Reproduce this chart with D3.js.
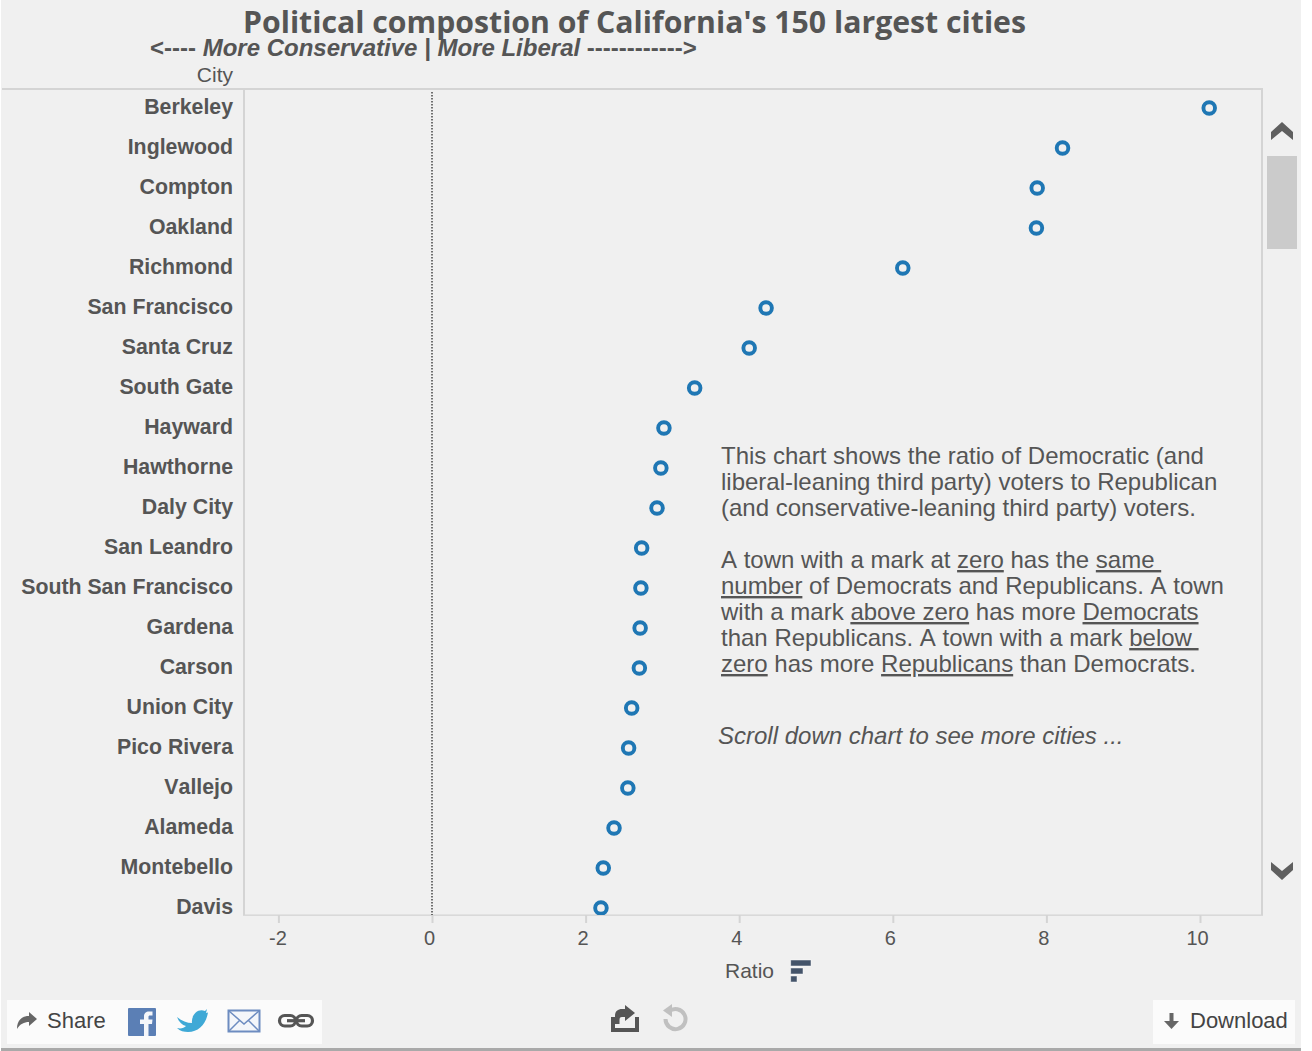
<!DOCTYPE html>
<html>
<head>
<meta charset="utf-8">
<script src="https://cdn.jsdelivr.net/npm/d3@7"></script>
<style>
  html, body { margin: 0; padding: 0; background: #fff; }
  svg { display: block; }
  text { font-family: "Liberation Sans", Arial, sans-serif; fill: #555; font-kerning: none; }
</style>
</head>
<body>
<div id="chart"></div>
<script>
const cities = ['Berkeley', 'Inglewood', 'Compton', 'Oakland', 'Richmond', 'San Francisco', 'Santa Cruz',
  'South Gate', 'Hayward', 'Hawthorne', 'Daly City', 'San Leandro', 'South San Francisco', 'Gardena',
  'Carson', 'Union City', 'Pico Rivera', 'Vallejo', 'Alameda', 'Montebello', 'Davis'];
const ratios = [10.12, 8.21, 7.88, 7.87, 6.13, 4.35, 4.13, 3.42, 3.02, 2.98, 2.93, 2.73, 2.72, 2.71,
  2.70, 2.60, 2.56, 2.55, 2.37, 2.23, 2.20];
const xTicks = [-2, 0, 2, 4, 6, 8, 10];

const titleText = "Political compostion of California's 150 largest cities";
const subtitleArrowLeft = '<---- ';
const subtitleItalic = 'More Conservative | More Liberal ';
const subtitleArrowRight = '------------>';

// each line is a list of [text, underlined] runs
const noteLines1 = [
  [['This chart shows the ratio of Democratic (and', false]],
  [['liberal-leaning third party) voters to Republican', false]],
  [['(and conservative-leaning third party) voters.', false]]
];
const noteLines2 = [
  [['A town with a mark at ', false], ['zero', true], [' has the ', false], ['same\u00a0', true]],
  [['number', true], [' of Democrats and Republicans. A town', false]],
  [['with a mark ', false], ['above zero', true], [' has more ', false], ['Democrats', true]],
  [['than Republicans. A town with a mark ', false], ['below\u00a0', true]],
  [['zero', true], [' has more ', false], ['Republicans', true], [' than Democrats.', false]]
];
const scrollNote = 'Scroll down chart to see more cities ...';

const width = 1312;
const height = 1051;
const panel = { top: 89, right: 1262, bottom: 915, left: 244 };

const svg = d3.select('#chart').append('svg')
  .attr('width', width)
  .attr('height', height)
  .attr('viewBox', `0 0 ${width} ${height}`);

// page background and the grey rule along the bottom
svg.append('rect').attr('x', 1).attr('width', 1300).attr('height', 1048).attr('fill', '#f0f0f0');
svg.append('rect').attr('x', 1).attr('y', 1048).attr('width', 1300).attr('height', 3).attr('fill', '#a9a9a9');

// Scales: 0 sits at 432px, 10 at 1200px. 21 rows at 40px, the last one runs under the panel edge
const xScale = d3.scaleLinear()
  .domain([(panel.left - 432) / 76.8, (panel.right - 432) / 76.8])
  .range([panel.left, panel.right]);

const yScale = d3.scaleBand()
  .domain(cities)
  .range([88, 88 + 40 * cities.length]);

svg.append('defs').append('clipPath').attr('id', 'panel-clip')
  .append('rect')
  .attr('x', panel.left)
  .attr('y', panel.top)
  .attr('width', panel.right - panel.left)
  .attr('height', panel.bottom - panel.top);

// Panel frame, the bottom edge is thinner than the others
svg.append('path')
  .attr('d', `M2,${panel.top}H${panel.right}V${panel.bottom}M${panel.left},${panel.top}V${panel.bottom}`)
  .attr('fill', 'none')
  .attr('stroke', '#d4d4d4')
  .attr('stroke-width', 2);
svg.append('rect').attr('x', panel.left - 1).attr('y', panel.bottom - 0.5)
  .attr('width', panel.right - panel.left + 2).attr('height', 1.3).attr('fill', '#d4d4d4');

// Zero reference line
svg.append('line')
  .attr('x1', xScale(0)).attr('x2', xScale(0))
  .attr('y1', panel.top + 3).attr('y2', panel.bottom)
  .attr('stroke', '#444')
  .attr('stroke-width', 1.5)
  .attr('stroke-dasharray', '1.5 1.5');

// X axis
const xAxis = svg.append('g')
  .attr('transform', `translate(0,${panel.bottom})`)
  .call(d3.axisBottom(xScale).tickValues(xTicks).tickSize(8).tickSizeOuter(0).tickPadding(8));
xAxis.select('.domain').remove();
xAxis.selectAll('.tick line').attr('stroke', '#d4d4d4').attr('stroke-width', 2);
xAxis.selectAll('.tick text')
  .attr('font-size', 20)
  .attr('dx', d => d < 0 ? -1 : -3)
  .style('font-family', '"Liberation Sans", Arial, sans-serif')
  .style('fill', '#555')
  .text(d => d);

// Y axis with the city names
const yAxis = svg.append('g')
  .attr('transform', 'translate(233,0)')
  .call(d3.axisLeft(yScale).tickSize(0).tickPadding(0));
yAxis.select('.domain').remove();
yAxis.selectAll('.tick text')
  .attr('font-size', 21.3)
  .attr('font-weight', 'bold')
  .attr('dy', '0.27em')
  .style('font-family', '"Liberation Sans", Arial, sans-serif')
  .style('fill', '#555');

// Points
svg.append('g')
  .attr('clip-path', 'url(#panel-clip)')
  .selectAll('circle')
  .data(cities)
  .join('circle')
  .attr('cx', (d, i) => xScale(ratios[i]))
  .attr('cy', d => yScale(d) + yScale.bandwidth() / 2)
  .attr('r', 5.8)
  .attr('fill', 'none')
  .attr('stroke', '#1f77b4')
  .attr('stroke-width', 3.9);

// Titles
svg.append('text')
  .attr('x', 634.5).attr('y', 33)
  .attr('text-anchor', 'middle')
  .attr('font-size', 31)
  .attr('font-weight', 'bold')
  .style('font-family', '"Open Sans", sans-serif')
  .attr('textLength', 783)
  .attr('lengthAdjust', 'spacingAndGlyphs')
  .text(titleText);

const subtitle = svg.append('text')
  .attr('x', 150).attr('y', 56)
  .attr('font-size', 24)
  .attr('font-weight', 'bold')
  .style('white-space', 'pre');
subtitle.append('tspan').text(subtitleArrowLeft);
subtitle.append('tspan').attr('font-style', 'italic').text(subtitleItalic);
subtitle.append('tspan').text(subtitleArrowRight);

svg.append('text')
  .attr('x', 233).attr('y', 82)
  .attr('text-anchor', 'end')
  .attr('font-size', 21)
  .text('City');

svg.append('text')
  .attr('x', 725).attr('y', 978)
  .attr('font-size', 21)
  .text('Ratio');

// Annotation block
function drawNote(lines, top) {
  const note = svg.append('text')
    .attr('font-size', 24)
    .style('white-space', 'pre');
  lines.forEach((runs, i) => {
    runs.forEach((run, j) => {
      const span = note.append('tspan')
        .attr('text-decoration', run[1] ? 'underline' : null)
        .text(run[0]);
      if (j === 0) span.attr('x', 721).attr('y', top + i * 26);
    });
  });
}
drawNote(noteLines1, 464);
drawNote(noteLines2, 568);

svg.append('text')
  .attr('x', 718).attr('y', 744)
  .attr('font-size', 24)
  .attr('font-style', 'italic')
  .text(scrollNote);

// Scroll bar
svg.append('rect').attr('x', 1267).attr('y', 156).attr('width', 30).attr('height', 93).attr('fill', '#cbcbcb');
svg.append('path').attr('d', 'M1271,132L1282,122L1293,132V140L1282,131L1271,140Z').attr('fill', '#5f5f5f');
svg.append('path').attr('d', 'M1271,862L1282,871L1293,862V870L1282,880L1271,870Z').attr('fill', '#5f5f5f');

// Toolbar boxes
svg.append('rect').attr('x', 7).attr('y', 1000).attr('width', 315).attr('height', 44).attr('fill', '#fbfbfb');
svg.append('rect').attr('x', 1153).attr('y', 1000).attr('width', 142).attr('height', 44).attr('fill', '#fbfbfb');

svg.append('text').attr('x', 47).attr('y', 1028).attr('font-size', 22).style('fill', '#444').text('Share');
svg.append('text').attr('x', 1190).attr('y', 1028).attr('font-size', 22).style('fill', '#444').text('Download');

// Share arrow
svg.append('path')
  .attr('d', 'M17,1029C17,1020 22,1016 29,1016V1012L37,1019L29,1026V1022C24,1022 20,1024 17,1029Z')
  .attr('fill', '#666');

// Facebook
svg.append('rect').attr('x', 128).attr('y', 1008).attr('width', 28).attr('height', 28).attr('rx', 1).attr('fill', '#5b7fb5');
svg.append('path')
  .attr('d', 'M144,1036V1024H140V1019.5H144V1016.5C144,1013 146,1011.5 149,1011.5H152.5V1015.5H150C148.8,1015.5 148.5,1016 148.5,1017V1019.5H152.5L152,1024H148.5V1036Z')
  .attr('fill', '#f4f6fa');

// Twitter
svg.append('path')
  .attr('d', 'M177,1017C182,1021 187,1023 192,1023C191,1016 197,1008 205,1011L207,1009L206,1013L208,1012.5C206,1024 199,1032 188,1032C184,1032 180,1031 177,1028C181,1029 184,1028 186,1026C182,1025 179,1022 177,1017Z')
  .attr('fill', '#3fa9d6');

// Mail
svg.append('rect').attr('x', 228.5).attr('y', 1010.5).attr('width', 31).attr('height', 21).attr('fill', '#f4f6fa').attr('stroke', '#6d8cc0').attr('stroke-width', 2);
svg.append('path').attr('d', 'M229,1011L244,1024L259,1011M229,1031L240,1020M259,1031L248,1020').attr('fill', 'none').attr('stroke', '#6d8cc0').attr('stroke-width', 1.5);

// Link
svg.append('g').attr('fill', 'none').attr('stroke', '#555').attr('stroke-width', 3.2)
  .call(g => {
    g.append('rect').attr('x', 279.5).attr('y', 1015.5).attr('width', 16).attr('height', 10.5).attr('rx', 5.2);
    g.append('rect').attr('x', 296.5).attr('y', 1015.5).attr('width', 16).attr('height', 10.5).attr('rx', 5.2);
    g.append('line').attr('x1', 287).attr('x2', 305).attr('y1', 1020.7).attr('y2', 1020.7);
  });

// Download arrow
svg.append('path').attr('d', 'M1169.5,1013H1173.5V1021H1179L1171.5,1029L1164,1021H1169.5Z').attr('fill', '#666');

// Sort icon beside Ratio
svg.append('g').attr('fill', '#44546a').attr('stroke', '#fff').attr('stroke-opacity', 0.6).attr('stroke-width', 0.8)
  .call(g => {
    g.append('rect').attr('x', 790.7).attr('y', 960).attr('width', 20.3).attr('height', 6);
    g.append('rect').attr('x', 790.7).attr('y', 968).attr('width', 12.3).attr('height', 6);
    g.append('rect').attr('x', 790.7).attr('y', 976).attr('width', 6.3).attr('height', 6);
  });

// Export and undo icons
svg.append('path')
  .attr('d', 'M611,1017H615V1028H635V1017H639V1032H611Z')
  .attr('fill', '#555');
svg.append('path')
  .attr('d', 'M615,1024V1016C615,1011 618,1009 622,1009H625V1005L635,1013L625,1021V1017H622C620,1017 619.5,1018 619.5,1020V1024Z')
  .attr('fill', '#555');
svg.append('path')
  .attr('d', 'M669,1011.5A10,10 0 1 1 665.5,1019')
  .attr('fill', 'none').attr('stroke', '#c0c0c0').attr('stroke-width', 4);
svg.append('path').attr('d', 'M672,1004V1017L663,1010.5Z').attr('fill', '#c0c0c0');
</script>
</body>
</html>
